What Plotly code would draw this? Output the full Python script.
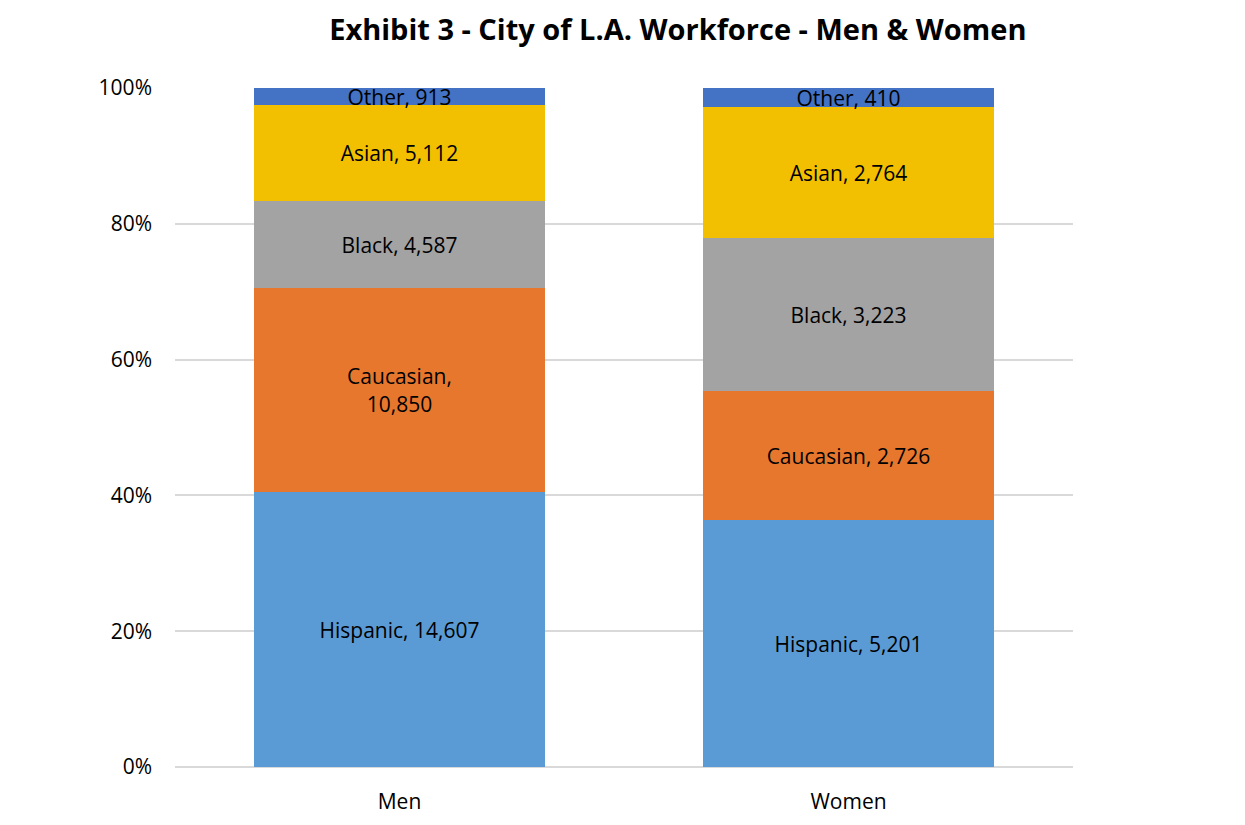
import plotly.graph_objects as go

categories = ["Men", "Women"]
groups = ["Hispanic", "Caucasian", "Black", "Asian", "Other"]
hispanic = [14607, 5201]
caucasian = [10850, 2726]
black = [4587, 3223]
asian = [5112, 2764]
other = [913, 410]

series = [hispanic, caucasian, black, asian, other]
colors = ["#5B9BD5", "#E8772E", "#A3A3A3", "#F2C000", "#4472C4"]

fig = go.Figure()
for name, vals, col in zip(groups, series, colors):
    labels = []
    for v in vals:
        s = f"{name}, {v:,}"
        # excel wrapped the long one
        if len(s) > 16:
            s = f"{name},<br>{v:,}"
        labels.append(s)
    fig.add_trace(go.Bar(
        x=categories, y=vals, name=name,
        marker=dict(color=col, line=dict(width=0)),
        text=labels, textposition="inside", insidetextanchor="middle",
        textangle=0, textfont=dict(color="black", size=21),
    ))

fig.update_layout(
    barmode="stack", barnorm="percent", bargap=0.354,
    width=1245, height=825,
    margin=dict(l=167, r=180, t=80, b=66),
    paper_bgcolor="white", plot_bgcolor="white",
    font=dict(family="Open Sans, Lato, sans-serif", color="black", size=21),
    title=dict(text="<b>Exhibit 3 - City of L.A. Workforce - Men & Women</b>",
               x=0.538, xanchor="center", y=0.974, yanchor="middle",
               font=dict(size=29, color="black")),
    showlegend=False,
    uniformtext=dict(minsize=21, mode="show"),
    yaxis=dict(range=[0, 100], dtick=20, ticksuffix="%", showgrid=True,
               gridcolor="#D9D9D9", gridwidth=2, zeroline=True,
               zerolinecolor="#D9D9D9", zerolinewidth=2, ticks="",
               ticklabelstandoff=22, tickfont=dict(size=21)),
    xaxis=dict(showline=False, ticks="", ticklabelstandoff=20,
               tickfont=dict(size=21)),
)

fig.write_html("out.html")
